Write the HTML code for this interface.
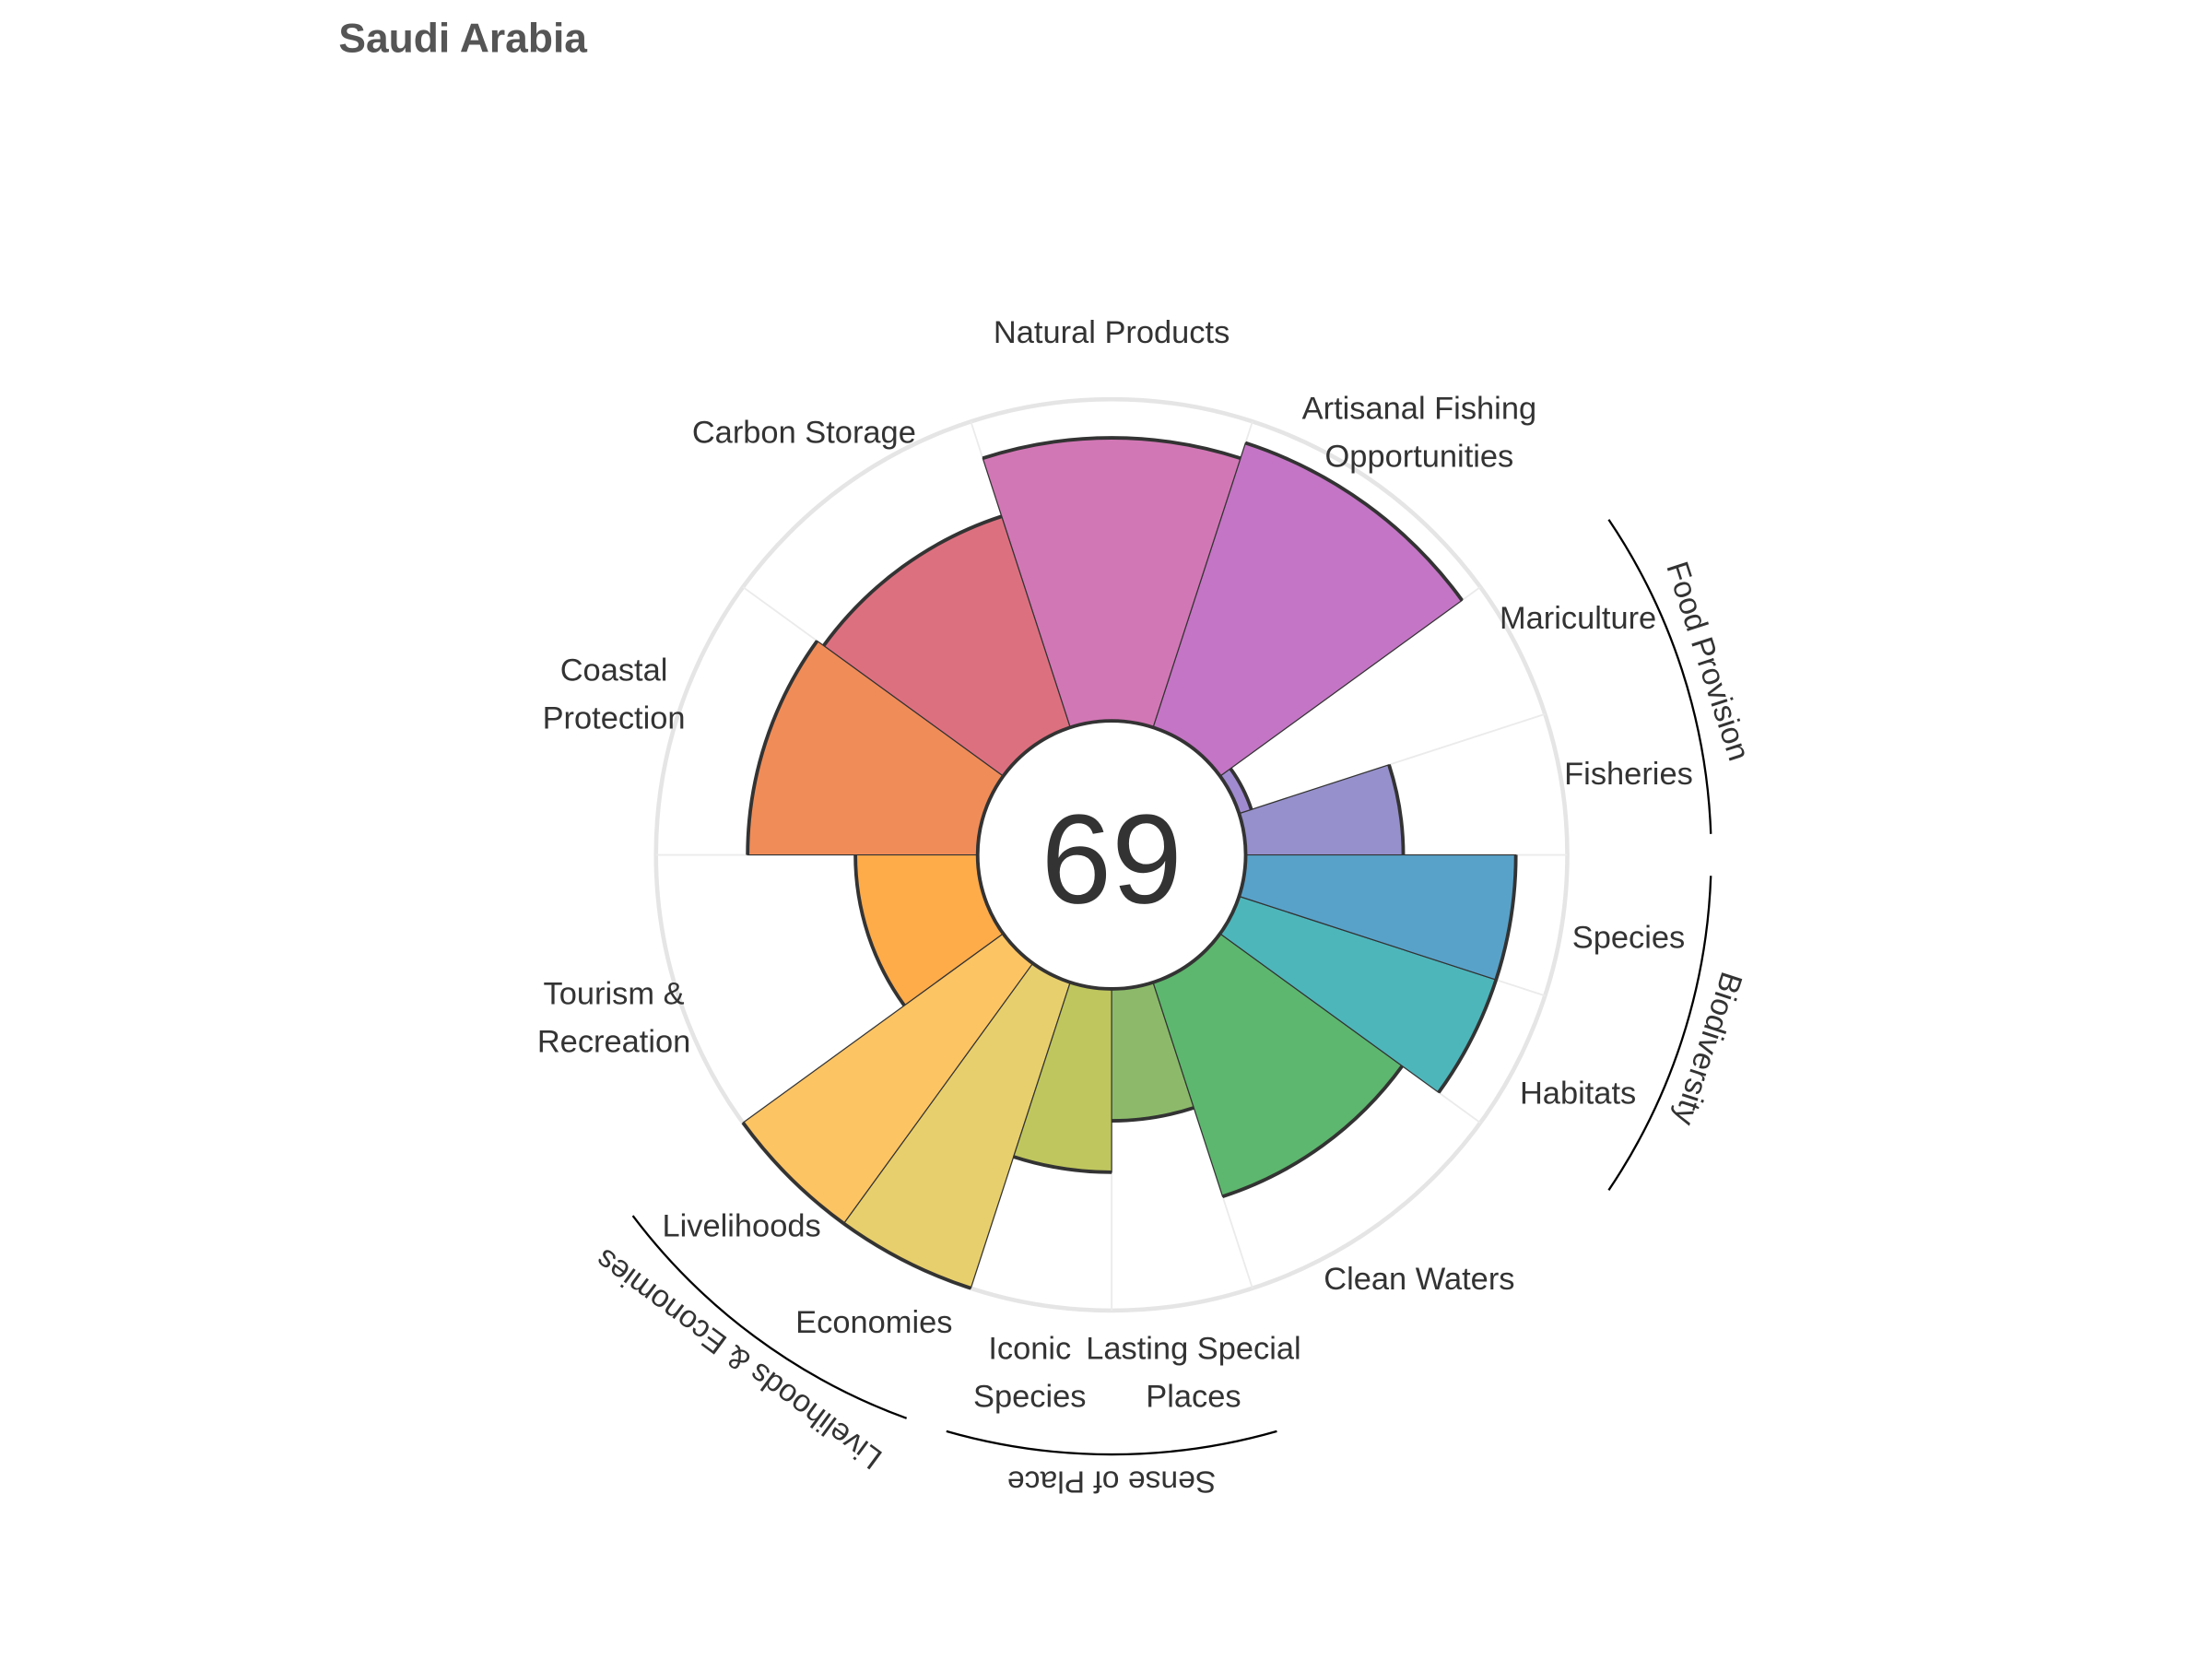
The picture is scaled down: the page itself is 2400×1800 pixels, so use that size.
<!DOCTYPE html>
<html><head><meta charset="utf-8"><style>
html,body{margin:0;padding:0;background:#fff}
svg{display:block}
text{font-family:"Liberation Sans",sans-serif}
</style></head><body>
<svg id="chart" width="2400" height="1800" viewBox="0 0 1568 1176" xmlns="http://www.w3.org/2000/svg">
<rect width="1568" height="1176" fill="#fff"/>
<text x="240" y="37" font-size="29" font-weight="bold" fill="#555">Saudi Arabia</text>
<g id="grid"></g><g id="bars"></g><g id="labels"></g><g id="groups"></g>
<circle cx="788" cy="606" r="95" fill="#fff" stroke="#333" stroke-width="2.5"/>
<text x="788" y="640" font-size="90" text-anchor="middle" fill="#333">69</text>
</svg>
<script>
const goals=["Fisheries","Mariculture","Artisanal Fishing Opportunities","Natural Products","Carbon Storage","Coastal Protection","Tourism & Recreation","Livelihoods","Economies","Iconic Species","Lasting Special Places","Clean Waters","Habitats","Species"];
const scores=[49,4,93,88,69,71.5,38,100,100,57,41,70,84,84];
const widths=[18,18,36,36,36,36,36,18,18,18,18,36,18,18];
const colors=["#9690cc","#a18bd0","#c475c5","#d277b5","#dd707f","#f08c58","#feab4a","#fdc463","#e8cf6d","#bfc65e","#8cba6a","#5db76e","#4db6bb","#58a2c9"];
const labelLines=[["Fisheries"],["Mariculture"],["Artisanal Fishing","Opportunities"],["Natural Products"],["Carbon Storage"],["Coastal","Protection"],["Tourism &","Recreation"],["Livelihoods"],["Economies"],["Iconic","Species"],["Lasting Special","Places"],["Clean Waters"],["Habitats"],["Species"]];
const groupNames=["Food Provision","Biodiversity","Livelihoods & Economies","Sense of Place"];
const groupStart=[2,-34,217,254];
const groupEnd=[34,-2,250,286];
const NS="http://www.w3.org/2000/svg",cx=788,cy=606,R0=95,R1=323;
const rad=v=>R0+(R1-R0)*v/100;
const pt=(r,a)=>[cx+r*Math.cos(a*Math.PI/180),cy-r*Math.sin(a*Math.PI/180)];
function mk(tag,attrs,parent){const e=document.createElementNS(NS,tag);for(const k in attrs)e.setAttribute(k,attrs[k]);document.getElementById(parent).appendChild(e);return e;}
const outer=mk("circle",{cx:cx,cy:cy,r:R1,fill:"none",stroke:"#e5e5e5","stroke-width":3},"grid");


let a=0;
const starts=[];
widths.forEach(w=>{starts.push(a);a+=w;});
starts.forEach((s,i)=>{
 const [x1,y1]=pt(R0,s),[x2,y2]=pt(R1,s);
 const gl=mk("line",{x1:x1,y1:y1,x2:x2,y2:y2,stroke:"#ebebeb","stroke-width":1.2},"grid");
 
 
});
goals.forEach((g,i)=>{
 const s=starts[i],e=s+widths[i],r=rad(scores[i]);
 const [ax,ay]=pt(R0,s),[bx,by]=pt(r,s),[ccx,ccy]=pt(r,e),[dx,dy]=pt(R0,e);
 const p=mk("path",{d:`M${ax},${ay}L${bx},${by}A${r},${r} 0 0 0 ${ccx},${ccy}L${dx},${dy}Z`,fill:colors[i],stroke:"#333","stroke-width":0.8},"bars");
 
 
 const arc=mk("path",{d:`M${bx},${by}A${r},${r} 0 0 0 ${ccx},${ccy}`,fill:"none",stroke:"#333","stroke-width":2.5},"bars");
 
 
 const mid=s+widths[i]/2;let [lx,ly]=pt(R1+48,mid);
 const lines=labelLines[i];
 const t=mk("text",{x:lx,y:ly-(lines.length-1)*17+8,"font-size":22.5,fill:"#333","text-anchor":"middle"},"labels");
 
 
 lines.forEach((ln,j)=>{const ts=mk("tspan",{x:lx,dy:j?34:0},"labels");t.appendChild(ts);ts.textContent=ln;});
});
groupNames.forEach((n,i)=>{
 const s=groupStart[i],e=groupEnd[i],r=425;
 const [x1,y1]=pt(r,s),[x2,y2]=pt(r,e);
 const ar=mk("path",{d:`M${x1},${y1}A${r},${r} 0 0 0 ${x2},${y2}`,fill:"none",stroke:"#000","stroke-width":1.5},"groups");
 
 
 const m=(s+e)/2;const [tx,ty]=pt(r+18,m);
 const t=mk("text",{x:tx,y:ty,"font-size":22,fill:"#333","text-anchor":"middle","dominant-baseline":"middle",transform:`rotate(${90-m} ${tx} ${ty})`},"groups");
 t.textContent=n;
 
 
});
</script>
</body></html>
